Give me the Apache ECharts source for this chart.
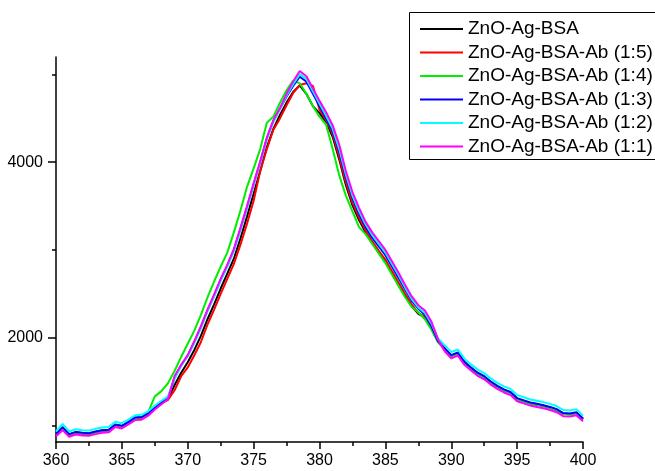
<!DOCTYPE html>
<html><head><meta charset="utf-8">
<script src="https://cdn.jsdelivr.net/npm/echarts@6/dist/echarts.min.js"></script>
<style>html,body{margin:0;padding:0;background:#fff}#c{width:655px;height:471px}</style>
</head><body><div id="c"></div>
<script>
var wavelengths = [];
for (var i = 0; i <= 80; i++) wavelengths.push(360 + i * 0.5);

var seriesNames = ['ZnO-Ag-BSA','ZnO-Ag-BSA-Ab (1:5)','ZnO-Ag-BSA-Ab (1:4)','ZnO-Ag-BSA-Ab (1:3)','ZnO-Ag-BSA-Ab (1:2)','ZnO-Ag-BSA-Ab (1:1)'];
var seriesColors = ['#000000','#ff0000','#00ee00','#0000ff','#00ffff','#ff00ff'];

var black = [900,975,895,920,910,905,925,940,945,1005,990,1035,1085,1090,1135,1195,1255,1300,1460,1600,1720,1860,2020,2210,2380,2560,2730,2900,3130,3380,3640,3900,4170,4380,4540,4680,4800,4875,4780,4640,4560,4460,4290,4030,3740,3510,3340,3200,3080,2970,2870,2740,2610,2480,2360,2270,2230,2100,1950,1870,1790,1820,1715,1650,1590,1550,1490,1440,1400,1370,1300,1275,1250,1235,1220,1200,1175,1130,1125,1140,1068];
var red = [895,970,890,915,905,900,920,935,940,1000,985,1030,1080,1085,1130,1190,1250,1290,1400,1560,1660,1800,1950,2150,2320,2500,2670,2840,3060,3300,3560,3900,4150,4370,4500,4650,4790,4880,4900,4870,4600,4480,4320,4060,3770,3540,3370,3220,3100,2990,2890,2760,2630,2500,2380,2280,2240,2110,1955,1875,1795,1825,1720,1655,1595,1555,1495,1445,1405,1375,1305,1280,1255,1240,1225,1205,1180,1135,1130,1145,1072];
var green = [900,975,895,920,910,905,925,940,945,1005,990,1035,1085,1090,1150,1330,1390,1480,1620,1780,1930,2080,2260,2460,2640,2810,2970,3200,3450,3720,3930,4150,4450,4520,4680,4820,4930,4900,4780,4640,4520,4430,4150,3850,3620,3440,3260,3180,3070,2960,2850,2720,2590,2460,2350,2290,2210,2090,1950,1870,1790,1820,1715,1650,1590,1550,1490,1440,1400,1370,1300,1275,1250,1235,1220,1200,1175,1130,1125,1140,1068];
var blue = [905,980,900,925,915,910,930,945,950,1010,995,1040,1090,1095,1140,1205,1262,1310,1545,1685,1795,1950,2120,2310,2480,2660,2820,3000,3240,3490,3750,4000,4270,4470,4610,4750,4870,4975,4920,4780,4640,4500,4350,4120,3830,3590,3410,3260,3140,3040,2940,2810,2680,2550,2420,2330,2260,2130,1960,1880,1800,1830,1725,1660,1600,1560,1500,1450,1410,1380,1310,1285,1260,1245,1230,1210,1185,1140,1135,1150,1078];
var cyan = [930,1015,930,955,945,940,960,975,980,1040,1025,1065,1115,1120,1160,1225,1280,1330,1530,1680,1790,1940,2110,2300,2470,2650,2810,2990,3230,3480,3740,3990,4260,4460,4610,4760,4890,5005,4950,4810,4670,4530,4380,4150,3860,3620,3440,3290,3170,3070,2970,2840,2710,2570,2440,2345,2280,2160,1990,1915,1835,1865,1760,1695,1635,1595,1535,1485,1445,1415,1345,1320,1295,1280,1265,1245,1220,1175,1170,1185,1110];
var magenta = [875,945,870,895,885,880,900,915,920,980,965,1010,1060,1065,1110,1180,1240,1300,1560,1690,1800,1960,2130,2320,2490,2670,2830,3010,3250,3500,3760,4010,4280,4480,4620,4780,4920,5040,4980,4840,4700,4570,4420,4200,3900,3660,3480,3320,3200,3100,3000,2870,2740,2600,2470,2370,2310,2180,1980,1845,1765,1795,1690,1625,1565,1525,1465,1415,1375,1345,1275,1250,1225,1210,1195,1175,1150,1105,1100,1115,1045];

var xMin = 360, xMax = 400, xInterval = 5;
var yMin = 810, yMax = 5200;
var yLabelValues = [2000, 4000];
var yMinorValues = [1000, 3000, 5000];

var allData = [black, red, green, blue, cyan, magenta];
var FONT = 'Liberation Sans, Arial, sans-serif';

var series = allData.map(function (arr, k) {
  return {
    name: seriesNames[k],
    type: 'line',
    data: arr.map(function (v, i) { return [wavelengths[i], v]; }),
    symbol: 'none',
    color: seriesColors[k],
    lineStyle: { width: 2, color: seriesColors[k] },
    clip: true,
    z: 2 + k
  };
});

var chart = echarts.init(document.getElementById('c'), null, { renderer: 'canvas' });
chart.setOption({
  animation: false,
  backgroundColor: '#fff',
  grid: { left: 56, right: 72, top: 57, bottom: 29, containLabel: false },
  graphic: [{
    type: 'rect', left: 409, top: 12, z: 3,
    shape: { width: 270, height: 147 },
    style: { fill: '#fff', stroke: '#000', lineWidth: 1 }
  }],
  legend: {
    orient: 'vertical', left: 409, top: 12, z: 10,
    padding: [7, 30, 5, 11],
    icon: 'rect',
    itemWidth: 43, itemHeight: 2, itemGap: 3.5,
    borderWidth: 0,
    textStyle: { fontSize: 19, color: '#000', fontFamily: FONT, lineHeight: 20 },
    data: seriesNames
  },
  xAxis: {
    type: 'value', min: xMin, max: xMax, interval: xInterval,
    axisLine: { show: true, onZero: false, lineStyle: { color: '#000', width: 1.5 } },
    axisTick: { show: true, inside: false, length: 7, lineStyle: { color: '#000', width: 1.5 } },
    minorTick: { show: true, splitNumber: 2, length: 4, lineStyle: { color: '#000', width: 1.5 } },
    axisLabel: { fontSize: 16, color: '#000', fontFamily: FONT, margin: 11 },
    splitLine: { show: false }
  },
  yAxis: [{
    type: 'value', min: yMin, max: yMax,
    axisLine: { show: true, onZero: false, lineStyle: { color: '#000', width: 1.5 } },
    axisTick: { show: true, length: 8, customValues: yLabelValues, lineStyle: { color: '#000', width: 1.5 } },
    axisLabel: { fontSize: 16, color: '#000', fontFamily: FONT, margin: 13, customValues: yLabelValues,
      formatter: function (v) { return String(v); } },
    splitLine: { show: false }
  }, {
    type: 'value', min: yMin, max: yMax, position: 'left', offset: 0,
    axisLine: { show: false },
    axisTick: { show: true, length: 4, customValues: yMinorValues, lineStyle: { color: '#000', width: 1.5 } },
    axisLabel: { show: false, customValues: yMinorValues },
    splitLine: { show: false }
  }],
  series: series
});
</script>
</body></html>
